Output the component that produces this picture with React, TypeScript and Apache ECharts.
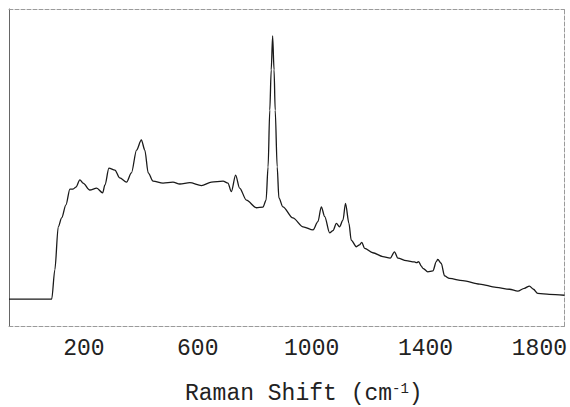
import React, { useEffect, useRef } from "react";
import * as echarts from "echarts";

const shift = [-63, 87, 98, 110, 122, 137, 151, 162, 172, 186, 197, 221, 245, 266, 274, 288, 309, 326, 350, 367, 385, 402, 414, 426, 443, 478, 513, 537, 572, 613, 648, 689, 706, 718, 733, 747, 771, 806, 829, 840, 847, 853, 858, 863, 868, 872, 879, 885, 899, 934, 970, 1005, 1022, 1034, 1046, 1063, 1075, 1087, 1098, 1110, 1119, 1131, 1139, 1157, 1168, 1176, 1186, 1215, 1250, 1276, 1291, 1303, 1332, 1361, 1369, 1376, 1385, 1391, 1408, 1426, 1438, 1443, 1455, 1467, 1484, 1531, 1590, 1648, 1695, 1724, 1747, 1765, 1779, 1794, 1835, 1888];

const intensity = [8.5, 8.5, 17.7, 31.3, 34.1, 38.2, 43.2, 43.2, 43.8, 46.1, 45.1, 42.9, 43.5, 42.0, 44.5, 49.8, 49.2, 46.7, 45.4, 48.3, 55.5, 58.7, 55.5, 48.3, 45.7, 45.1, 45.4, 44.8, 45.2, 44.3, 45.4, 45.7, 45.1, 42.4, 47.6, 43.5, 39.7, 37.3, 37.5, 39.7, 50.2, 68.1, 80.8, 91.5, 80.8, 68.1, 50.2, 40.4, 37.6, 34.1, 31.3, 30.3, 32.9, 37.6, 34.5, 29.4, 30.1, 32.4, 31.3, 33.4, 38.7, 32.4, 27.1, 25.0, 25.6, 26.4, 24.5, 23.1, 21.9, 21.4, 23.4, 21.4, 20.6, 20.2, 20.0, 20.3, 18.9, 18.2, 17.1, 17.4, 20.3, 21.0, 19.8, 15.8, 15.0, 14.3, 13.2, 12.2, 11.6, 11.0, 11.9, 12.6, 11.6, 10.3, 10.0, 9.7];

const tickLabels = [200, 600, 1000, 1400, 1800];

const xMin = -63;
const xMax = 1888;
const MONO = '"Courier New", "Liberation Mono", monospace';

export default function App() {
  const ref = useRef<HTMLDivElement>(null);
  useEffect(() => {
    if (!ref.current) return;
    const chart = echarts.init(ref.current, undefined, { renderer: "svg" });
    const data = shift.map((s, i) => [s, intensity[i]]);
    chart.setOption({
      animation: false,
      backgroundColor: "#ffffff",
      grid: { left: 9, top: 9, right: 5, bottom: 81 },
      xAxis: [
        {
          type: "value",
          min: xMin,
          max: xMax,
          position: "bottom",
          axisLine: { onZero: false, lineStyle: { color: "#9a9a9a", type: "dashed", width: 1 } },
          axisTick: { show: false },
          splitLine: { show: false },
          axisLabel: {
            customValues: tickLabels,
            formatter: (v: number) => String(v),
            margin: 11,
            color: "#222",
            fontFamily: MONO,
            fontSize: 23,
          },
        },
        {
          type: "value",
          min: xMin,
          max: xMax,
          position: "top",
          axisLine: { onZero: false, lineStyle: { color: "#9a9a9a", type: "dashed", width: 1 } },
          axisTick: { show: false },
          splitLine: { show: false },
          axisLabel: { show: false },
        },
      ],
      yAxis: [
        {
          type: "value",
          min: 0,
          max: 100,
          position: "left",
          axisLine: { show: true, onZero: false, lineStyle: { color: "#666", width: 1 } },
          axisTick: { show: false },
          splitLine: { show: false },
          axisLabel: { show: false },
        },
        {
          type: "value",
          min: 0,
          max: 100,
          position: "right",
          axisLine: { show: true, onZero: false, lineStyle: { color: "#9a9a9a", type: "dashed", width: 1 } },
          axisTick: { show: false },
          splitLine: { show: false },
          axisLabel: { show: false },
        },
      ],
      series: [
        {
          type: "line",
          data,
          xAxisIndex: 0,
          yAxisIndex: 0,
          showSymbol: false,
          smooth: 0.3,
          smoothMonotone: "x",
          lineStyle: { color: "#1a1a1a", width: 1.3 },
        },
      ],
      graphic: [
        {
          type: "text",
          left: 185,
          top: 382,
          style: {
            text: "{a|Raman Shift (cm}{s|-1}{a|)}",
            rich: {
              a: { fontFamily: MONO, fontSize: 23, fill: "#222", lineHeight: 23 },
              s: { fontFamily: MONO, fontSize: 14, fill: "#222", lineHeight: 14, verticalAlign: "top" },
            },
          },
        },
      ],
    });
    return () => chart.dispose();
  }, []);
  return (
    <div
      ref={ref}
      style={{ position: "fixed", left: 0, top: 0, width: 570, height: 407, background: "#fff" }}
    />
  );
}
